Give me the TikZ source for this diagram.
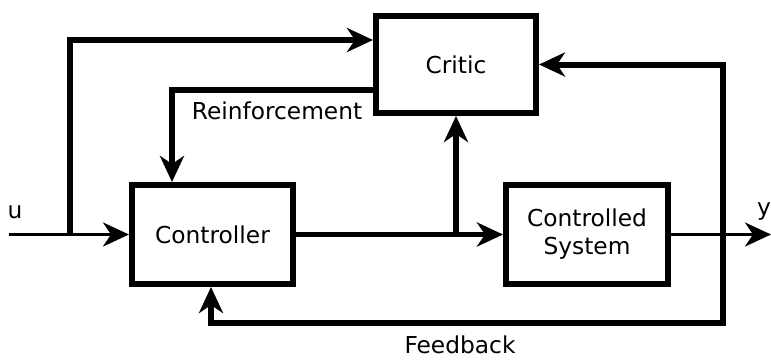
\documentclass[tikz,border=0pt]{standalone}
\usepackage{fontspec}
\setmainfont{DejaVu Sans}
\usetikzlibrary{arrows.meta}
\begin{document}
\begin{tikzpicture}[x=1pt,y=-1pt,
  txt/.style={font=\fontsize{23.3}{28}\selectfont},
  block/.style={draw, line width=6pt, minimum width=161pt, minimum height=99pt,
    inner sep=0pt, align=center, txt},
  lbl/.style={inner sep=0pt, txt},
  arrowhead/.style={-{Stealth[length=26pt,width=24pt,inset=8pt]}},
  heavy/.style={line width=6pt},
  medium/.style={line width=4.5pt},
  light/.style={line width=3pt}]
\useasboundingbox (0,0) rectangle (771,359);

% blocks
\node[block, minimum width=160pt, minimum height=97pt] (critic) at (456,64.5) {Critic};
\node[block] (ctrl) at (212.5,234.5) {Controller};
\node[block, minimum width=162pt] (sys) at (587,234.5) {Controlled\\System};

% free ends and branch points
\coordinate (uin) at (9,234.5);
\coordinate (split) at (70,234.5);
\coordinate (yout) at (771,234.5);
\coordinate (fb) at (722.5,234.5);
\coordinate (fbl) at (722.5,323);

% input u
\draw[light, arrowhead] (uin) -- (ctrl.west);
\draw[heavy, arrowhead] (split) |- ([yshift=24.5pt]critic.west);

% reinforcement signal
\draw[heavy, arrowhead] ([yshift=-25.5pt]critic.west) -| ([xshift=-40.5pt]ctrl.north);

% control action to plant and critic
\draw[medium, arrowhead] (ctrl.east) -- (sys.west);
\draw[heavy, arrowhead] (critic.south |- ctrl.east) -- (critic.south);

% plant output
\draw[light, arrowhead] (sys.east) -- (yout);

% feedback loop
\draw[heavy, arrowhead] (fb) |- (critic.east);
\draw[heavy, arrowhead] (fb) -- (fbl) -| ([xshift=-1.5pt]ctrl.south);

% labels
\node[lbl] (ulbl) at (15,212) {u};
\node[lbl, anchor=west] (ylbl) at (757,212) {y};
\node[lbl] (rlbl) at (277,111) {Reinforcement};
\node[lbl] (flbl) at (460,345) {Feedback};
\end{tikzpicture}
\end{document}
